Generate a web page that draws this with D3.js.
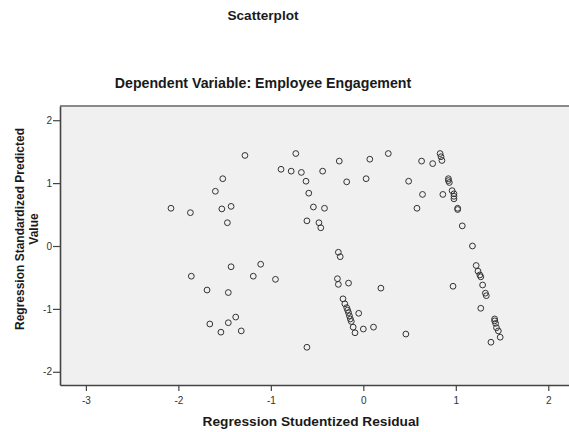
<!DOCTYPE html>
<html>
<head>
<meta charset="utf-8">
<script src="https://cdn.jsdelivr.net/npm/d3@7/dist/d3.min.js"></script>
<style>
  html, body { margin: 0; padding: 0; background: #ffffff; }
  svg { display: block; font-family: "Liberation Sans", Arial, sans-serif; }
</style>
</head>
<body>
<svg id="chart" width="569" height="432"></svg>
<script>
// ---- data ----
const residuals = [
  -2.08, -1.87, -1.60, -1.52, -1.53, -1.43, -1.47, -1.28, -0.73, -0.89,
  -0.78, -0.67, -0.62, -0.44, -0.59, -0.54, -0.42, -0.61, -0.48, -0.46,
  -0.26, -0.18, 0.07, 0.03, 0.27, 0.49, 0.63, 0.64, 0.58, -0.27,
  -0.25, 0.75, 0.83, 0.84, 0.85, 0.92, 0.92, 0.93, 0.86, 0.96,
  0.98, 0.98, 0.98, 1.02, 1.02, 1.07, 1.18,
  -1.86, -1.43, -1.69, -1.46, -1.66, -1.46, -1.38, -1.54, -1.32, -1.11,
  -1.19, -0.95, -0.61, -0.28, -0.27, -0.16, 0.19, -0.22, -0.20, -0.18,
  -0.17, -0.16, -0.15, -0.14, -0.13, -0.11, -0.09, -0.05, 0.00, 0.11,
  0.46, 1.22, 1.24, 1.26, 1.27, 1.29, 1.32, 1.33, 0.97, 1.27,
  1.42, 1.42, 1.43, 1.44, 1.46, 1.48, 1.38
];
const predicted = [
  0.60, 0.53, 0.87, 1.07, 0.59, 0.63, 0.37, 1.44, 1.47, 1.22,
  1.19, 1.17, 1.03, 1.19, 0.84, 0.62, 0.60, 0.40, 0.37, 0.29,
  1.35, 1.02, 1.38, 1.07, 1.47, 1.03, 1.35, 0.82, 0.60, -0.10,
  -0.17, 1.31, 1.47, 1.42, 1.36, 1.07, 1.04, 1.01, 0.82, 0.88,
  0.83, 0.79, 0.75, 0.60, 0.58, 0.32, 0.00,
  -0.48, -0.33, -0.70, -0.74, -1.24, -1.22, -1.13, -1.37, -1.35, -0.29,
  -0.48, -0.53, -1.61, -0.52, -0.61, -0.59, -0.67, -0.84, -0.92, -0.98,
  -1.02, -1.06, -1.11, -1.16, -1.20, -1.29, -1.38, -1.07, -1.32, -1.29,
  -1.40, -0.31, -0.40, -0.46, -0.49, -0.62, -0.75, -0.79, -0.64, -0.99,
  -1.16, -1.19, -1.23, -1.30, -1.35, -1.45, -1.53
];
const xTicks = [-3, -2, -1, 0, 1, 2];
const yTicks = [-2, -1, 0, 1, 2];
const chartTitle = "Scatterplot";
const chartSubtitle = "Dependent Variable: Employee Engagement";
const xTitle = "Regression Studentized Residual";
const yTitleLines = ["Regression Standardized Predicted", "Value"];

(function () {
  // ---- layout ----
  const svg = d3.select("#chart");
  const pL = 60, pR = 569, pT = 106, pB = 385;

  const x = d3.scaleLinear().domain([-3.28, 2.224]).range([pL, pR]);
  const y = d3.scaleLinear().domain([-2.21, 2.226]).range([pB, pT]);

  // plot background
  svg.append("rect")
    .attr("x", pL).attr("y", pT)
    .attr("width", pR - pL).attr("height", pB - pT)
    .attr("fill", "#f0f0f0");

  // top border
  svg.append("line")
    .attr("x1", pL).attr("x2", pR)
    .attr("y1", pT).attr("y2", pT)
    .attr("stroke", "#8a8a8a").attr("stroke-width", 2);

  // titles
  svg.append("text")
    .attr("x", 263).attr("y", 20)
    .attr("text-anchor", "middle")
    .attr("font-size", 13.6).attr("font-weight", "bold")
    .attr("fill", "#1a1a1a")
    .text(chartTitle);

  svg.append("text")
    .attr("x", 263).attr("y", 88)
    .attr("text-anchor", "middle")
    .attr("font-size", 14.2).attr("font-weight", "bold")
    .attr("fill", "#1a1a1a")
    .text(chartSubtitle);

  // axes
  const fmt = d => String(d);
  const gx = svg.append("g")
    .attr("transform", `translate(0,${pB})`)
    .call(d3.axisBottom(x).tickValues(xTicks).tickFormat(fmt).tickSize(6).tickSizeOuter(0));
  const gy = svg.append("g")
    .attr("transform", `translate(${pL},0)`)
    .call(d3.axisLeft(y).tickValues(yTicks).tickFormat(fmt).tickSize(7).tickSizeOuter(0));

  [gx, gy].forEach(g => {
    g.select(".domain").attr("stroke", "#444").attr("stroke-width", 1.6);
    g.selectAll(".tick line").attr("stroke", "#444").attr("stroke-width", 1.2);
    g.selectAll(".tick text")
      .attr("font-family", "'Liberation Sans', Arial, sans-serif")
      .attr("font-size", 10).attr("fill", "#333");
  });
  gx.selectAll(".tick text").attr("dy", "0.95em");
  gy.selectAll(".tick text").attr("x", -8);

  // axis titles
  svg.append("text")
    .attr("x", 311).attr("y", 426)
    .attr("text-anchor", "middle")
    .attr("font-size", 13.7).attr("font-weight", "bold")
    .attr("fill", "#1a1a1a")
    .text(xTitle);

  const yt = svg.append("text")
    .attr("transform", "translate(24,229) rotate(-90)")
    .attr("text-anchor", "middle")
    .attr("font-size", 12).attr("font-weight", "bold")
    .attr("fill", "#1a1a1a");
  yTitleLines.forEach((t, i) => {
    yt.append("tspan").attr("x", 0).attr("dy", i === 0 ? 0 : 14).text(t);
  });

  // points
  const pts = residuals.map((r, i) => ({ r, p: predicted[i] }));
  svg.append("g").selectAll("circle")
    .data(pts)
    .join("circle")
    .attr("cx", d => x(d.r))
    .attr("cy", d => y(d.p))
    .attr("r", 2.9)
    .attr("fill", "none")
    .attr("stroke", "#333")
    .attr("stroke-width", 1);
})();
</script>
</body>
</html>
